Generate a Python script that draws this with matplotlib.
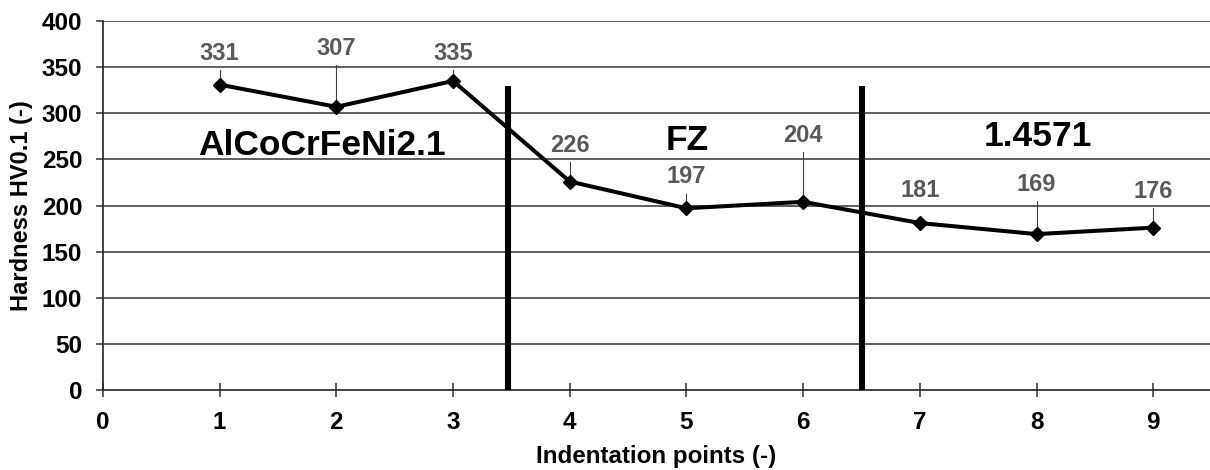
import matplotlib
matplotlib.use("Agg")
import matplotlib.pyplot as plt

# ---- data ----
points = [1, 2, 3, 4, 5, 6, 7, 8, 9]
hardness = [331, 307, 335, 226, 197, 204, 181, 169, 176]
label_y = [365, 370, 365, 265, 231, 276, 216, 223, 215]
has_leader = [True, True, True, True, True, True, False, True, True]
boundaries = [3.47, 6.5]
boundary_top = 330
regions = ["AlCoCrFeNi2.1", "FZ", "1.4571"]
region_x = [1.88, 5.01, 8.01]
region_y = [265, 270, 275]
yticks = [0, 50, 100, 150, 200, 250, 300, 350, 400]
xticks = [0, 1, 2, 3, 4, 5, 6, 7, 8, 9]

plt.rcParams['font.family'] = ['Liberation Sans', 'DejaVu Sans']
plt.rcParams['font.weight'] = 'bold'

fig = plt.figure(figsize=(12.1, 4.7), dpi=100)
ax = fig.add_axes([0.0851, 0.1702, 1 - 0.0851, 0.9553 - 0.1702])

ax.set_xlim(0, 9.486)
ax.set_ylim(0, 400)

for y in yticks[1:]:
    ax.axhline(y, color='#333333', lw=1.1, zorder=1)

ax.plot(points, hardness, color='black', lw=2.9, marker='D', ms=7.5,
        zorder=4, solid_joinstyle='miter')

for x, v, ly, lead in zip(points, hardness, label_y, has_leader):
    ax.text(x, ly, str(v), ha='center', va='center', fontsize=17,
            color='#595959', fontweight='bold', zorder=5)
    if lead:
        ax.plot([x, x], [ly - 18, v], color='#404040', lw=0.8, zorder=3)

for b in boundaries:
    ax.plot([b, b], [0, boundary_top], color='black', lw=4.4,
            solid_capstyle='butt', zorder=6)

for t, x, y in zip(regions, region_x, region_y):
    ax.text(x, y, t, ha='center', va='center', fontsize=25.5,
            fontweight='bold', color='black', zorder=5)

ax.spines['top'].set_visible(False)
ax.spines['right'].set_visible(False)
for s in ['left', 'bottom']:
    ax.spines[s].set_color('#222222')
    ax.spines[s].set_linewidth(1.2)

ax.set_yticks(yticks)
ax.set_xticks(xticks)
ax.tick_params(axis='y', direction='out', length=5, width=1.1,
               labelsize=17.5, pad=10, color='#333333')
ax.tick_params(axis='x', direction='inout', length=10, width=1.1,
               labelsize=17.5, pad=10, color='#333333')
for lab in ax.get_xticklabels() + ax.get_yticklabels():
    lab.set_fontweight('bold')

ax.set_xlabel('Indentation points (-)', fontsize=17.4, fontweight='bold',
              labelpad=8)
ax.set_ylabel('Hardness HV0.1 (-)', fontsize=17, fontweight='bold',
              labelpad=6)

fig.savefig('out.png', dpi=100)
